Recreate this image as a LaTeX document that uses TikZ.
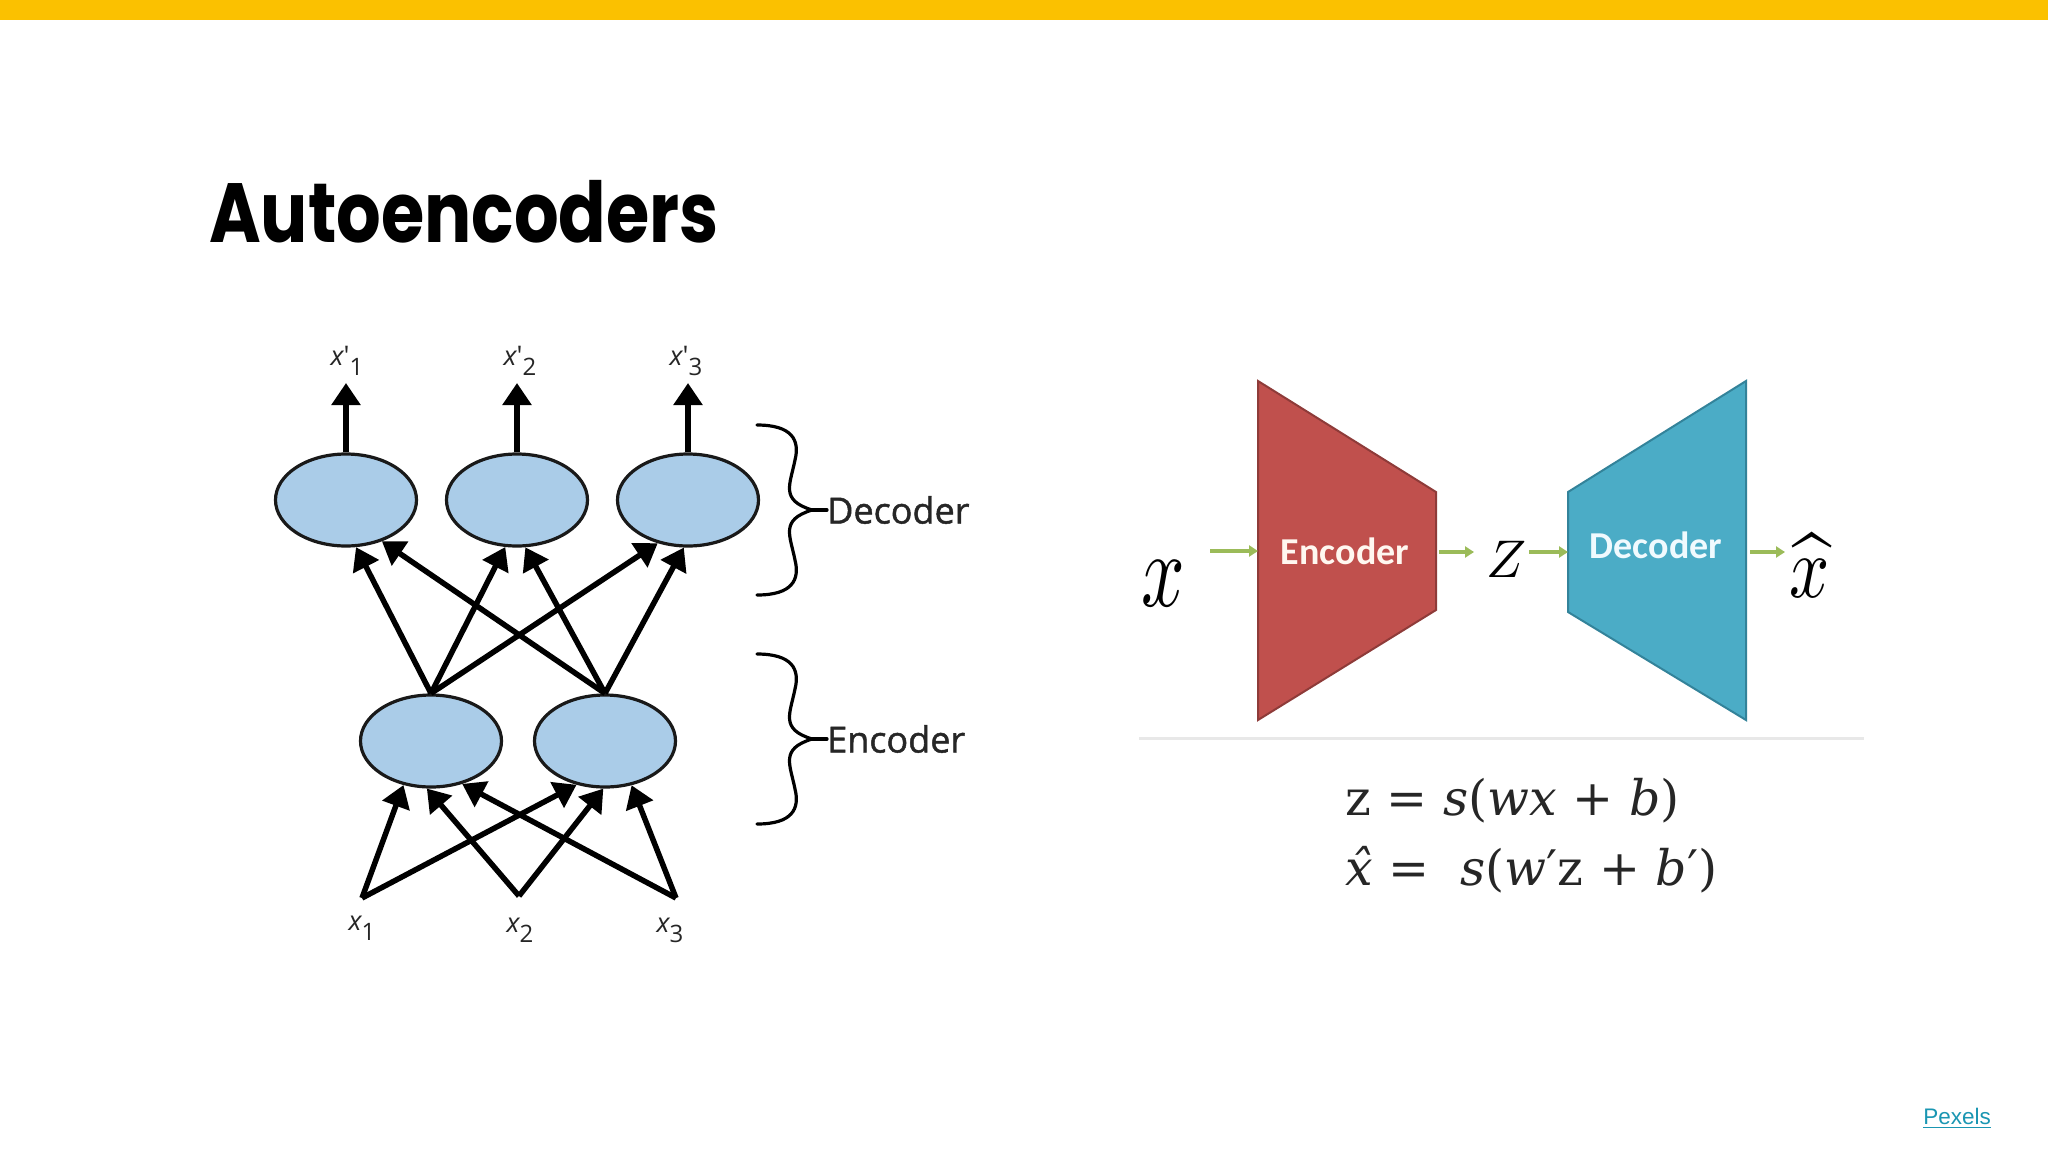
\documentclass[tikz,border=0pt]{standalone}
\usepackage{graphicx}
\usepackage{fontspec}
\DeclareFontFamily{OML}{cmm}{\skewchar\font'177}
\DeclareFontShape{OML}{cmm}{m}{it}{<->cmmi10}{}
\DeclareFontFamily{OMX}{cmex}{}
\DeclareFontShape{OMX}{cmex}{m}{n}{<->cmex10}{}
\DeclareFontFamily{OMS}{cmsy}{\skewchar\font'60}
\DeclareFontShape{OMS}{cmsy}{m}{n}{<->cmsy10}{}
\usetikzlibrary{arrows.meta,shapes.geometric}
\newfontfamily\titlefont{Poppins}
\newfontfamily\lblfont{Open Sans}
\newfontfamily\lblfontb{Open Sans}[FakeBold=1.3]
\newfontfamily\calfont{Carlito}
\newfontfamily\eqfont{DejaVu Serif}
\newfontfamily\linkfont{Liberation Sans}
\definecolor{topbar}{HTML}{FBC100}
\definecolor{nnblue}{HTML}{AACCE8}
\definecolor{encred}{HTML}{C0504D}
\definecolor{encredd}{HTML}{8E3B39}
\definecolor{decblue}{HTML}{4BACC6}
\definecolor{decblued}{HTML}{33839A}
\definecolor{arrgreen}{HTML}{9BBB59}
\definecolor{rulegray}{HTML}{E8E8E8}
\definecolor{linkteal}{HTML}{1A96B2}
\tikzset{
  neuron/.style={ellipse, draw=black!90, line width=3.2pt, fill=nnblue,
    minimum width=141pt, minimum height=92pt, inner sep=0pt},
  nnarrow/.style={line width=5.5pt, -{Triangle[length=22pt,width=28pt]}},
  greenarrow/.style={draw=arrgreen, line width=3.5pt, -{Triangle[length=9pt,width=11pt]}},
  bracepen/.style={line width=3.2pt, line cap=round, line join=round},
  netlabel/.style={anchor=base, inner sep=0pt, font=\lblfont\fontsize{27}{30}\selectfont, text=black!85},
  sidelabel/.style={anchor=west, inner sep=0pt, font=\lblfontb\fontsize{36}{40}\selectfont, text=black!85},
  bigmath/.style={anchor=base, inner sep=0pt},
  cbrace/.pic={\draw[bracepen] (-55,-85) .. controls (-20,-85) and (-12,-70) .. (-17,-50)
      .. controls (-22,-25) and (-32,-10) .. (0,0)
      .. controls (-32,10) and (-22,25) .. (-17,50)
      .. controls (-12,70) and (-20,85) .. (-55,85);}
}
\newcommand{\subone}[1]{\raisebox{-10pt}{\fontsize{24}{26}\selectfont #1}}
\begin{document}
\begin{tikzpicture}[x=1pt,y=-1pt]
\useasboundingbox (0,0) rectangle (2048,1152);
\fill[white] (0,0) rectangle (2048,1152);
\fill[topbar] (0,0) rectangle (2048,20);

% title
\node[anchor=base west, inner sep=0pt, font=\titlefont\bfseries\fontsize{84}{90}\selectfont] (title) at (209,242) {\scalebox{0.835}[1]{Autoencoders}};

% ---------- left network ----------
\node[neuron] (t1) at (346,500) {};
\node[neuron] (t2) at (517,500) {};
\node[neuron] (t3) at (688,500) {};
\node[neuron] (e1) at (431,741) {};
\node[neuron] (e2) at (605,741) {};

\coordinate (o1) at (346,383);
\coordinate (o2) at (517,383);
\coordinate (o3) at (688,383);
\coordinate (v1) at (362,898);
\coordinate (v2) at (519,896);
\coordinate (v3) at (676,898);

\node[netlabel] (lo1) at (347,365) {\itshape x\upshape'\subone{1}};
\node[netlabel] (lo2) at (520,365) {\itshape x\upshape'\subone{2}};
\node[netlabel] (lo3) at (686,365) {\itshape x\upshape'\subone{3}};
\node[netlabel] (li1) at (362,930) {\itshape x\upshape\subone{1}};
\node[netlabel] (li2) at (520,932) {\itshape x\upshape\subone{2}};
\node[netlabel] (li3) at (670,932) {\itshape x\upshape\subone{3}};

% inputs to encoder
\draw[nnarrow] (v1) -- (e1.238);
\draw[nnarrow] (v2) -- (e1.265);
\draw[nnarrow] (v3) -- (e1.306);
\draw[nnarrow] (v1) -- (e2.237);
\draw[nnarrow] (v2) -- (e2.268);
\draw[nnarrow] (v3) -- (e2.301);
% encoder to decoder
\draw[nnarrow] (e1.north) -- (t1.282);
\draw[nnarrow] (e2.north) -- (t1.311);
\draw[nnarrow] (e1.north) -- (t2.256);
\draw[nnarrow] (e2.north) -- (t2.280);
\draw[nnarrow] (e1.north) -- (t3.235);
\draw[nnarrow] (e2.north) -- (t3.265);
% outputs
\draw[nnarrow] (t1.north) -- (o1);
\draw[nnarrow] (t2.north) -- (o2);
\draw[nnarrow] (t3.north) -- (o3);

% braces
\coordinate (dtip) at (812,510);
\coordinate (etip) at (812,739);
\pic at (dtip) {cbrace};
\pic at (etip) {cbrace};
\node[sidelabel] (dlab) at (827,510) {Decoder};
\node[sidelabel] (elab) at (827,739) {Encoder};
\draw[bracepen] (dtip) -- (dlab.west);
\draw[bracepen] (etip) -- (elab.west);

% ---------- right diagram ----------
\filldraw[fill=encred, draw=encredd, line width=2pt] (1258,381) -- (1436,492) -- (1436,610) -- (1258,720) -- cycle;
\filldraw[fill=decblue, draw=decblued, line width=2pt] (1568,492) -- (1746,381) -- (1746,720) -- (1568,612) -- cycle;
\node[font=\calfont\bfseries\fontsize{38}{40}\selectfont, text=white!94!orange] (enctext) at (1345,551) {Encoder};
\node[font=\calfont\bfseries\fontsize{38}{40}\selectfont, text=white!94!cyan] (dectext) at (1656,545) {Decoder};

\node[bigmath, font=\fontsize{106}{106}\selectfont] (xin) at (1163,606) {\scalebox{0.72}[1]{$x$}};
\node[bigmath, font=\fontsize{53}{53}\selectfont] (zlat) at (1506,577) {$Z$};
\node[bigmath, font=\fontsize{88}{88}\selectfont] (xout) at (1810,597) {\scalebox{0.8}[1]{$\widehat{x}$}};

\coordinate (g1s) at (1210,551);
\coordinate (encW) at (1258,551);
\coordinate (encE) at (1439,552);
\coordinate (g2e) at (1474,552);
\coordinate (g3s) at (1529,552);
\coordinate (decW) at (1568,552);
\coordinate (decE) at (1750,552);
\coordinate (g4e) at (1785,552);
\draw[greenarrow] (g1s) -- (encW);
\draw[greenarrow] (encE) -- (g2e);
\draw[greenarrow] (g3s) -- (decW);
\draw[greenarrow] (decE) -- (g4e);

\coordinate (ruleL) at (1139,738);
\coordinate (ruleR) at (1864,738);
\draw[rulegray, line width=3pt] (ruleL) -- (ruleR);

\node[anchor=base west, inner sep=0pt, font=\eqfont\fontsize{49}{52}\selectfont, text=black!85] (eq1) at (1345,815)
  {z = \textit{s}(\textit{wx} + \textit{b})};
\node[anchor=base west, inner sep=0pt, font=\eqfont\fontsize{49}{52}\selectfont, text=black!85] (eq2) at (1345,885)
  {\textit{x̂} = \ \textit{s}(\textit{w}′z + \textit{b}′)};

% link
\node[anchor=base, inner sep=0pt, font=\linkfont\fontsize{22.5}{24}\selectfont, text=linkteal] (pexels) at (1957,1124) {\underline{Pexels}};
\end{tikzpicture}
\end{document}
